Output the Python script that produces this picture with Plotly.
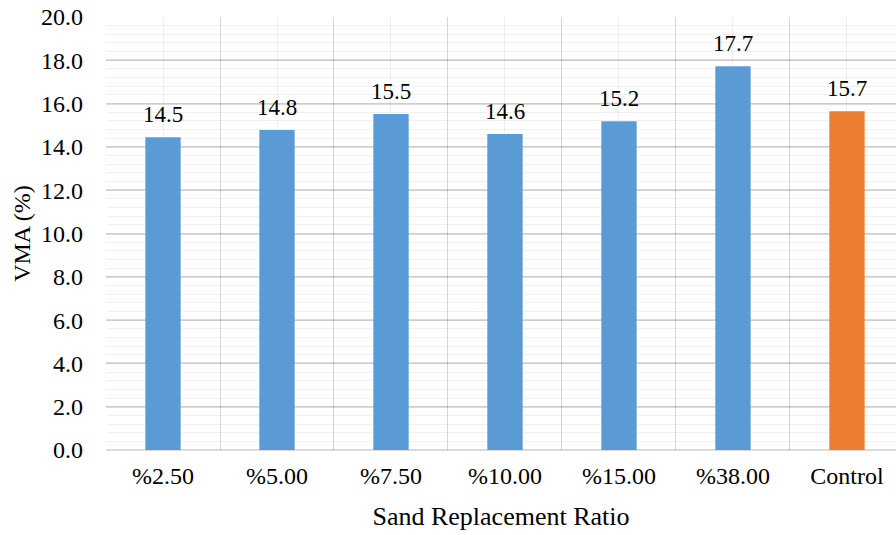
import plotly.graph_objects as go

categories = ["%2.50", "%5.00", "%7.50", "%10.00", "%15.00", "%38.00", "Control"]
vma = [14.45, 14.78, 15.52, 14.6, 15.18, 17.72, 15.65]
labels = ["14.5", "14.8", "15.5", "14.6", "15.2", "17.7", "15.7"]
colors = ["#5B9BD5"] * 6 + ["#ED7D31"]
y_ticks = [0, 2, 4, 6, 8, 10, 12, 14, 16, 18, 20]

font = "Liberation Serif, Times New Roman, serif"
xpos = list(range(len(categories)))

fig = go.Figure(go.Bar(
    x=xpos, y=vma, width=0.31, marker=dict(color=colors, line=dict(width=0)),
))

for xi, yi, lab in zip(xpos, vma, labels):
    fig.add_annotation(x=xi, y=yi, text=lab, showarrow=False, yanchor="bottom",
                       yshift=8, font=dict(family=font, size=23, color="#000000"))

major = "rgba(0,0,0,0.14)"
minor = "rgba(0,0,0,0.06)"

fig.update_layout(
    width=896, height=535, paper_bgcolor="white", plot_bgcolor="white",
    margin=dict(l=106, r=0, t=17, b=85), showlegend=False,
    font=dict(family=font, size=22, color="#000000"),
    xaxis=dict(
        range=[-0.5, 6.43], tickmode="array", tickvals=xpos, ticktext=categories,
        showgrid=True, gridcolor=minor, gridwidth=1,
        minor=dict(tickmode="linear", tick0=-0.5, dtick=1, showgrid=True, gridcolor="rgba(0,0,0,0.16)", gridwidth=1.2),
        ticks="", zeroline=False, showline=False, ticklabelstandoff=9,
        tickfont=dict(family=font, size=24, color="#000000"),
        title=dict(text="Sand Replacement Ratio", font=dict(family=font, size=26), standoff=18),
    ),
    yaxis=dict(
        range=[0, 20], tickmode="array", tickvals=y_ticks, ticktext=[f"{v:.1f}" for v in y_ticks],
        showgrid=True, gridcolor=major, gridwidth=1.5,
        minor=dict(tickmode="linear", tick0=0, dtick=0.4, showgrid=True, gridcolor=minor, gridwidth=1),
        zeroline=True, zerolinecolor=major, zerolinewidth=1.5, showline=False, ticks="",
        ticklabelstandoff=22,
        tickfont=dict(family=font, size=24, color="#000000"),
        title=dict(text="VMA (%)", font=dict(family=font, size=24), standoff=3),
    ),
)

fig.write_html("out.html")
